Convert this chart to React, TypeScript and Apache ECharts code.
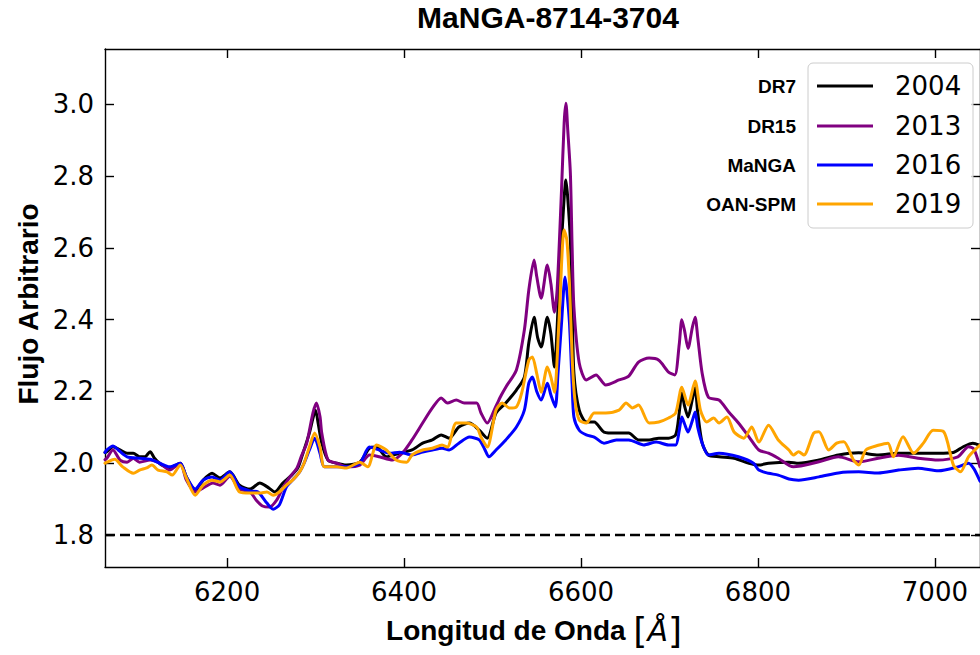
import React, { useEffect, useRef } from "react";
import * as echarts from "echarts";

// ---- data (wavelength in Å, arbitrary flux) ----
const xTicks = [6200, 6400, 6600, 6800, 7000];
const yTicks = [1.8, 2.0, 2.2, 2.4, 2.6, 2.8, 3.0];
const legendYears = ["2004", "2013", "2016", "2019"];
const legendSurveys = ["DR7", "DR15", "MaNGA", "OAN-SPM"];
const baselineLevel = 1.8;

const dr7: number[][] = [
  [6062, 2.03], [6064, 2.032], [6071, 2.046], [6079, 2.037], [6087, 2.028], [6094, 2.028], [6101, 2.018], [6107, 2.018],
  [6113, 2.032], [6118, 2.014], [6126, 1.995], [6135, 1.987], [6147, 2.0], [6154, 1.962], [6164, 1.925], [6173, 1.953],
  [6183, 1.972], [6192, 1.959], [6203, 1.976], [6214, 1.939], [6226, 1.928], [6237, 1.945], [6245, 1.935], [6254, 1.92],
  [6263, 1.945], [6273, 1.967], [6280, 1.987], [6286, 2.03], [6293, 2.084], [6297, 2.125], [6300, 2.148], [6303, 2.11],
  [6307, 2.056], [6314, 2.009], [6324, 2.0], [6335, 1.995], [6350, 2.003], [6361, 2.042], [6369, 2.045], [6380, 2.018],
  [6395, 2.028], [6409, 2.037], [6421, 2.056], [6432, 2.065], [6442, 2.079], [6451, 2.07], [6462, 2.101], [6474, 2.112],
  [6485, 2.092], [6494, 2.07], [6504, 2.14], [6515, 2.168], [6527, 2.204], [6536, 2.24], [6541, 2.335], [6547, 2.407],
  [6551, 2.35], [6555, 2.324], [6562, 2.407], [6566, 2.36], [6570, 2.268], [6575, 2.482], [6579, 2.66], [6583, 2.789],
  [6585, 2.74], [6588, 2.622], [6590, 2.45], [6592, 2.251], [6598, 2.148], [6606, 2.115], [6615, 2.115], [6626, 2.087],
  [6640, 2.084], [6654, 2.084], [6665, 2.065], [6677, 2.065], [6688, 2.07], [6699, 2.07], [6707, 2.079], [6711, 2.14],
  [6714, 2.196], [6717, 2.16], [6721, 2.129], [6726, 2.18], [6729, 2.21], [6732, 2.14], [6737, 2.056], [6744, 2.023],
  [6756, 2.018], [6773, 2.014], [6790, 2.0], [6801, 1.995], [6812, 2.0], [6835, 2.003], [6846, 2.0], [6869, 2.009],
  [6891, 2.023], [6914, 2.029], [6936, 2.023], [6959, 2.028], [6981, 2.028], [7004, 2.028], [7021, 2.03], [7032, 2.046],
  [7043, 2.056], [7051, 2.05],
];

const dr15: number[][] = [
  [6062, 2.01], [6064, 2.014], [6071, 2.037], [6079, 2.009], [6087, 2.003], [6094, 2.014], [6101, 2.003], [6113, 2.009],
  [6124, 2.0], [6135, 1.981], [6147, 2.0], [6154, 1.953], [6164, 1.92], [6173, 1.931], [6184, 1.945], [6192, 1.939],
  [6203, 1.964], [6214, 1.928], [6226, 1.92], [6233, 1.897], [6240, 1.881], [6248, 1.878], [6256, 1.897], [6263, 1.931],
  [6271, 1.962], [6279, 1.987], [6284, 2.02], [6290, 2.056], [6297, 2.14], [6301, 2.168], [6305, 2.13], [6307, 2.084],
  [6314, 2.009], [6324, 2.0], [6335, 1.99], [6350, 1.995], [6361, 2.023], [6372, 2.018], [6387, 2.009], [6398, 2.028],
  [6409, 2.065], [6421, 2.112], [6432, 2.154], [6442, 2.182], [6449, 2.168], [6459, 2.176], [6468, 2.168], [6482, 2.168],
  [6487, 2.14], [6494, 2.112], [6504, 2.16], [6510, 2.19], [6515, 2.212], [6527, 2.26], [6536, 2.371], [6541, 2.482],
  [6547, 2.566], [6550, 2.52], [6555, 2.46], [6562, 2.552], [6566, 2.5], [6570, 2.421], [6573, 2.482], [6578, 2.761],
  [6581, 2.95], [6583, 3.003], [6585, 2.93], [6588, 2.808], [6590, 2.6], [6592, 2.435], [6598, 2.279], [6606, 2.232],
  [6617, 2.246], [6628, 2.218], [6643, 2.232], [6654, 2.243], [6665, 2.282], [6677, 2.293], [6688, 2.287], [6699, 2.254],
  [6706, 2.246], [6711, 2.33], [6714, 2.4], [6717, 2.37], [6721, 2.32], [6726, 2.38], [6729, 2.407], [6732, 2.35],
  [6737, 2.25], [6744, 2.184], [6756, 2.176], [6767, 2.143], [6778, 2.112], [6790, 2.073], [6801, 2.037], [6812, 2.028],
  [6823, 2.014], [6840, 1.99], [6869, 2.004], [6891, 2.018], [6914, 2.004], [6936, 2.014], [6959, 2.022], [6981, 2.014],
  [7004, 2.009], [7026, 2.018], [7038, 2.046], [7044, 2.04], [7051, 1.99],
];

const manga: number[][] = [
  [6062, 2.03], [6064, 2.037], [6071, 2.048], [6077, 2.037], [6087, 2.018], [6101, 2.014], [6113, 2.011], [6124, 2.0],
  [6135, 1.99], [6147, 2.0], [6154, 1.962], [6164, 1.928], [6173, 1.953], [6183, 1.962], [6192, 1.953], [6203, 1.976],
  [6214, 1.934], [6226, 1.923], [6235, 1.92], [6245, 1.889], [6252, 1.872], [6259, 1.884], [6267, 1.934], [6274, 1.953],
  [6282, 1.976], [6287, 2.0], [6293, 2.037], [6299, 2.07], [6305, 2.028], [6310, 1.99], [6324, 1.99], [6335, 1.99],
  [6350, 2.0], [6361, 2.045], [6372, 2.037], [6384, 2.028], [6395, 2.031], [6409, 2.023], [6421, 2.031], [6432, 2.037],
  [6443, 2.042], [6451, 2.037], [6462, 2.056], [6474, 2.073], [6485, 2.065], [6491, 2.04], [6496, 2.018], [6504, 2.037],
  [6515, 2.065], [6527, 2.101], [6536, 2.148], [6541, 2.223], [6545, 2.24], [6550, 2.2], [6555, 2.176], [6562, 2.223],
  [6566, 2.19], [6571, 2.157], [6574, 2.25], [6578, 2.39], [6582, 2.519], [6584, 2.48], [6587, 2.39], [6590, 2.22],
  [6592, 2.129], [6598, 2.092], [6606, 2.079], [6615, 2.073], [6626, 2.056], [6640, 2.065], [6654, 2.065], [6671, 2.051],
  [6685, 2.059], [6699, 2.051], [6707, 2.051], [6711, 2.09], [6714, 2.129], [6717, 2.11], [6721, 2.087], [6726, 2.12],
  [6729, 2.143], [6732, 2.1], [6737, 2.056], [6744, 2.023], [6756, 2.028], [6778, 2.018], [6795, 2.0], [6801, 1.981],
  [6812, 1.972], [6823, 1.967], [6835, 1.956], [6846, 1.953], [6869, 1.962], [6891, 1.973], [6914, 1.976], [6936, 1.973],
  [6959, 1.981], [6981, 1.986], [7004, 1.979], [7026, 1.99], [7038, 2.0], [7044, 1.985], [7051, 1.95],
];

const oanSpm: number[][] = [
  [6062, 2.0], [6064, 2.003], [6073, 2.011], [6082, 1.99], [6094, 1.972], [6101, 1.981], [6109, 1.987], [6115, 1.995],
  [6122, 1.981], [6132, 1.976], [6138, 1.967], [6147, 1.995], [6154, 1.959], [6164, 1.911], [6173, 1.939], [6183, 1.953],
  [6192, 1.948], [6203, 1.967], [6214, 1.92], [6226, 1.917], [6237, 1.917], [6245, 1.92], [6252, 1.911], [6259, 1.92],
  [6267, 1.939], [6274, 1.953], [6282, 1.976], [6287, 2.0], [6293, 2.045], [6299, 2.084], [6305, 2.045], [6310, 1.99],
  [6324, 1.99], [6335, 1.987], [6350, 2.003], [6359, 1.99], [6369, 2.051], [6380, 2.037], [6391, 2.009], [6403, 2.003],
  [6409, 2.023], [6421, 2.037], [6432, 2.042], [6443, 2.051], [6449, 2.045], [6459, 2.112], [6470, 2.112], [6482, 2.101],
  [6487, 2.073], [6494, 2.045], [6504, 2.148], [6511, 2.168], [6519, 2.154], [6527, 2.157], [6533, 2.196], [6541, 2.287],
  [6545, 2.296], [6550, 2.25], [6555, 2.198], [6562, 2.268], [6566, 2.24], [6570, 2.198], [6575, 2.39], [6581, 2.65],
  [6584, 2.622], [6587, 2.5], [6590, 2.296], [6593, 2.18], [6598, 2.12], [6606, 2.112], [6615, 2.14], [6628, 2.14],
  [6643, 2.148], [6651, 2.168], [6658, 2.154], [6665, 2.162], [6677, 2.112], [6688, 2.115], [6699, 2.126], [6707, 2.14],
  [6714, 2.212], [6721, 2.162], [6729, 2.229], [6735, 2.148], [6742, 2.115], [6750, 2.126], [6756, 2.112], [6765, 2.129],
  [6773, 2.087], [6784, 2.07], [6793, 2.101], [6801, 2.059], [6812, 2.106], [6823, 2.065], [6835, 2.037], [6840, 2.023],
  [6846, 2.032], [6852, 2.023], [6863, 2.084], [6869, 2.088], [6880, 2.037], [6889, 2.056], [6897, 2.06], [6908, 2.009],
  [6914, 1.995], [6922, 2.037], [6936, 2.05], [6947, 2.056], [6953, 2.018], [6964, 2.074], [6976, 2.028], [6987, 2.056],
  [6998, 2.092], [7010, 2.088], [7021, 1.995], [7029, 1.976], [7038, 2.018], [7049, 2.046], [7051, 2.05],
];

const seriesData = [dr7, dr15, manga, oanSpm];
const seriesColors = ["#000000", "#800080", "#0000ff", "#ffa500"];

const X_MIN = 6062;
const X_MAX = 7051;
const Y_MIN = 1.711;
const Y_MAX = 3.154;

const SANS = "'Liberation Sans', Arial, Helvetica, sans-serif";
const DEJAVU = "'DejaVu Sans', sans-serif";

export default function App() {
  const ref = useRef<HTMLDivElement>(null);

  useEffect(() => {
    if (!ref.current) return;
    const chart = echarts.init(ref.current, null, { renderer: "svg", width: 980, height: 655 });

    const axisCommon = {
      type: "value" as const,
      axisLine: { show: true, onZero: false, lineStyle: { color: "#000", width: 1.4 } },
      axisTick: { show: true, inside: true, length: 9, lineStyle: { color: "#000", width: 1.4 } },
      splitLine: { show: false },
    };

    const legendTop = 63;
    const rowYs = [86, 126, 165, 204];
    const legendGraphics: any[] = [
      {
        type: "rect",
        shape: { x: 808, y: legendTop, width: 165, height: 165, r: 5 },
        style: { fill: "rgba(255,255,255,0.8)", stroke: "#cccccc", lineWidth: 1 },
        z: 100,
      },
    ];
    legendYears.forEach((yr, i) => {
      legendGraphics.push({
        type: "line",
        shape: { x1: 817, y1: rowYs[i], x2: 873, y2: rowYs[i] },
        style: { stroke: seriesColors[i], lineWidth: 2.8 },
        z: 101,
      });
      legendGraphics.push({
        type: "text",
        x: 895,
        y: rowYs[i],
        style: { text: yr, font: `26px ${DEJAVU}`, fill: "#000", textAlign: "left", textVerticalAlign: "middle" },
        z: 101,
      });
      legendGraphics.push({
        type: "text",
        x: 796,
        y: rowYs[i],
        style: { text: legendSurveys[i], font: `bold 19px ${SANS}`, fill: "#000", textAlign: "right", textVerticalAlign: "middle" },
        z: 101,
      });
    });

    const option: any = {
      animation: false,
      backgroundColor: "#ffffff",
      grid: { left: 105, top: 49, right: -2, bottom: 88, containLabel: false },
      xAxis: [
        {
          ...axisCommon,
          position: "bottom",
          min: X_MIN,
          max: X_MAX,
          axisTick: { ...axisCommon.axisTick, customValues: xTicks },
          axisLabel: {
            customValues: xTicks,
            margin: 12,
            fontSize: 26,
            fontFamily: DEJAVU,
            color: "#000",
            formatter: (v: number) => String(Math.round(v)),
          },
        },
        {
          ...axisCommon,
          position: "top",
          min: X_MIN,
          max: X_MAX,
          axisTick: { ...axisCommon.axisTick, customValues: xTicks },
          axisLabel: { show: false },
        },
      ],
      yAxis: [
        {
          ...axisCommon,
          position: "left",
          min: Y_MIN,
          max: Y_MAX,
          axisTick: { ...axisCommon.axisTick, customValues: yTicks },
          axisLabel: {
            customValues: yTicks,
            margin: 11,
            fontSize: 26,
            fontFamily: DEJAVU,
            color: "#000",
            formatter: (v: number) => v.toFixed(1),
          },
        },
        {
          ...axisCommon,
          position: "right",
          min: Y_MIN,
          max: Y_MAX,
          axisTick: { ...axisCommon.axisTick, customValues: yTicks },
          axisLabel: { show: false },
        },
      ],
      series: [
        {
          type: "line",
          name: "baseline",
          data: [
            [X_MIN, baselineLevel],
            [X_MAX, baselineLevel],
          ],
          showSymbol: false,
          symbol: "none",
          silent: true,
          lineStyle: { color: "#000", width: 2.6, type: [10, 5] },
          z: 2,
        },
        ...seriesData.map((d, i) => ({
          type: "line",
          name: legendYears[i],
          data: d,
          showSymbol: false,
          symbol: "none",
          silent: true,
          clip: true,
          smooth: 0.25,
          lineStyle: { color: seriesColors[i], width: 3, join: "round", cap: "round" },
          z: 3 + i,
        })),
      ],
      graphic: [
        {
          type: "text",
          x: 548,
          y: 17,
          style: { text: "MaNGA-8714-3704", font: `bold 30px ${SANS}`, fill: "#000", textAlign: "center", textVerticalAlign: "middle" },
        },
        {
          type: "text",
          x: 534,
          y: 630,
          style: {
            text: "{a|Longitud de Onda }{b|[}{c|Å}{b|]}",
            textAlign: "center",
            textVerticalAlign: "middle",
            fill: "#000",
            rich: {
              a: { fontSize: 28, fontFamily: SANS, fontWeight: "bold", fill: "#000" },
              b: { fontSize: 36, fontFamily: DEJAVU, fill: "#000" },
              c: { fontSize: 30, fontFamily: DEJAVU, fontStyle: "italic", fill: "#000" },
            },
          },
        },
        {
          type: "text",
          x: 28,
          y: 304,
          rotation: Math.PI / 2,
          style: { text: "Flujo Arbitrario", font: `bold 28px ${SANS}`, fill: "#000", textAlign: "center", textVerticalAlign: "middle" },
        },
        ...legendGraphics,
      ],
    };

    chart.setOption(option);
    return () => chart.dispose();
  }, []);

  return (
    <div
      ref={ref}
      style={{ position: "fixed", left: 0, top: 0, width: 980, height: 655, background: "#fff" }}
    />
  );
}
